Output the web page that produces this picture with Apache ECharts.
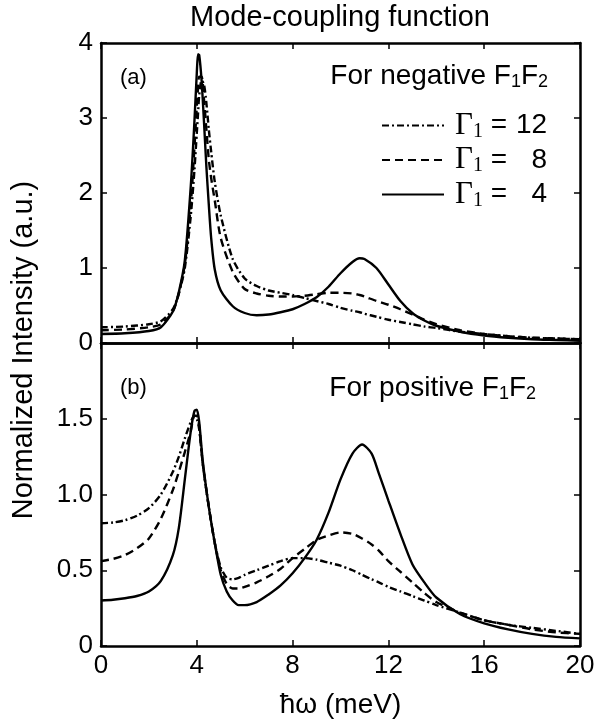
<!DOCTYPE html>
<html><head><meta charset="utf-8">
<script src="https://cdn.jsdelivr.net/npm/echarts@6/dist/echarts.min.js"></script>
<style>html,body{margin:0;padding:0;background:#fff}#c{width:609px;height:725px}</style>
</head><body><div id="c"></div>
<script>
// ---- Panel (a): negative F1F2 ----
const xTop = [0, 1, 2, 2.5, 3, 3.25, 3.5, 3.75, 3.9, 4.0, 4.05, 4.1, 4.2, 4.3, 4.4, 4.5, 4.6, 4.75, 5, 5.5, 6, 6.5, 7, 7.5, 8, 8.5, 9, 9.5, 10, 10.5, 10.8, 11, 11.5, 12, 12.5, 13, 13.5, 14, 15, 16, 17, 18, 19, 20];
const topG4  = [0.12, 0.13, 0.16, 0.21, 0.42, 0.68, 1.10, 2.10, 2.95, 3.60, 3.85, 3.84, 3.50, 2.95, 2.35, 1.85, 1.40, 0.98, 0.70, 0.49, 0.40, 0.37, 0.38, 0.41, 0.45, 0.52, 0.61, 0.75, 0.93, 1.08, 1.13, 1.12, 1.00, 0.78, 0.56, 0.40, 0.30, 0.23, 0.15, 0.10, 0.07, 0.05, 0.04, 0.03];
const topG8  = [0.17, 0.18, 0.21, 0.25, 0.42, 0.66, 1.05, 1.85, 2.60, 3.15, 3.40, 3.55, 3.55, 3.25, 2.85, 2.45, 2.20, 1.90, 1.40, 0.95, 0.72, 0.66, 0.63, 0.62, 0.62, 0.63, 0.65, 0.67, 0.67, 0.66, 0.64, 0.62, 0.56, 0.51, 0.45, 0.38, 0.31, 0.25, 0.17, 0.12, 0.09, 0.07, 0.06, 0.05];
const topG12 = [0.21, 0.22, 0.25, 0.29, 0.45, 0.66, 1.00, 1.70, 2.30, 2.80, 3.05, 3.30, 3.50, 3.45, 3.20, 2.85, 2.55, 2.15, 1.70, 1.12, 0.86, 0.76, 0.70, 0.67, 0.64, 0.60, 0.56, 0.52, 0.47, 0.43, 0.41, 0.39, 0.35, 0.31, 0.28, 0.25, 0.22, 0.20, 0.15, 0.12, 0.09, 0.07, 0.06, 0.05];

// ---- Panel (b): positive F1F2 ----
const xBot = [0, 0.5, 1, 1.5, 2, 2.5, 3, 3.25, 3.5, 3.75, 3.9, 4.0, 4.1, 4.25, 4.5, 4.75, 5, 5.25, 5.5, 5.75, 6, 6.5, 7, 7.5, 8, 8.5, 9, 9.5, 10, 10.5, 10.9, 11.3, 11.6, 12, 12.5, 13, 13.5, 14, 15, 16, 17, 18, 19, 20];
const botG4  = [0.30, 0.305, 0.315, 0.33, 0.36, 0.43, 0.60, 0.78, 1.10, 1.42, 1.55, 1.56, 1.48, 1.22, 0.92, 0.68, 0.47, 0.36, 0.30, 0.27, 0.27, 0.29, 0.34, 0.40, 0.48, 0.58, 0.70, 0.88, 1.10, 1.27, 1.33, 1.27, 1.14, 0.96, 0.74, 0.54, 0.42, 0.32, 0.21, 0.15, 0.11, 0.08, 0.06, 0.05];
const botG8  = [0.56, 0.575, 0.60, 0.645, 0.71, 0.84, 1.03, 1.15, 1.28, 1.42, 1.52, 1.52, 1.45, 1.20, 0.92, 0.68, 0.50, 0.41, 0.38, 0.38, 0.39, 0.42, 0.46, 0.51, 0.58, 0.64, 0.70, 0.73, 0.75, 0.74, 0.71, 0.67, 0.63, 0.56, 0.49, 0.42, 0.35, 0.29, 0.22, 0.17, 0.14, 0.11, 0.09, 0.08];
const botG12 = [0.81, 0.815, 0.83, 0.86, 0.91, 1.00, 1.15, 1.25, 1.37, 1.48, 1.52, 1.50, 1.43, 1.20, 0.92, 0.68, 0.52, 0.45, 0.44, 0.45, 0.47, 0.50, 0.53, 0.56, 0.58, 0.58, 0.57, 0.55, 0.53, 0.50, 0.47, 0.44, 0.42, 0.39, 0.36, 0.33, 0.30, 0.27, 0.22, 0.17, 0.14, 0.12, 0.10, 0.08];

const seriesNames = ['G12', 'G8', 'G4'];
const gammaValues = ['12', '8', '4'];

const FONT = "'Liberation Sans', Arial, Helvetica, sans-serif";
const SERIF = "'Liberation Serif', 'Times New Roman', serif";

function pairs(xs, ys) { return xs.map((x, i) => [x, ys[i]]); }

const styles = {
  G12: { color: '#000', width: 2.4, type: [7, 3, 2, 3] },
  G8:  { color: '#000', width: 2.4, type: [8, 5] },
  G4:  { color: '#000', width: 2.4, type: 'solid' }
};

function mkSeries(name, xi, yi, xs, ys) {
  return { name, type: 'line', xAxisIndex: xi, yAxisIndex: yi, data: pairs(xs, ys),
    symbol: 'none', smooth: 0.25, lineStyle: styles[name], silent: true };
}

function xAx(gridIndex, position, showLabel) {
  return { type: 'value', gridIndex, position, min: 0, max: 20, interval: 4,
    axisLine: { show: true, onZero: false, lineStyle: { color: '#000', width: 2.5 } },
    axisTick: { show: true, inside: true, length: 6, lineStyle: { color: '#000', width: 1.5 } },
    axisLabel: { show: showLabel, color: '#000', fontFamily: FONT, fontSize: 26, margin: 7 },
    splitLine: { show: false },
    name: showLabel ? 'ħω (meV)' : '', nameLocation: 'middle', nameGap: 45,
    nameTextStyle: { color: '#000', fontFamily: FONT, fontSize: 28 } };
}
function yAx(gridIndex, position, showLabel, max, interval, fmt) {
  return { type: 'value', gridIndex, position, min: 0, max, interval,
    axisLine: { show: true, onZero: false, lineStyle: { color: '#000', width: 2.5 } },
    axisTick: { show: true, inside: true, length: 6, lineStyle: { color: '#000', width: 1.5 } },
    axisLabel: { show: showLabel, color: '#000', fontFamily: FONT, fontSize: 26, margin: 8, formatter: fmt },
    splitLine: { show: false } };
}

const subRich = {
  a: { fontFamily: FONT, fontSize: 28, color: '#000' },
  s: { fontFamily: FONT, fontSize: 18, color: '#000', padding: [12, 0, 0, 0] }
};

const chart = echarts.init(document.getElementById('c'), null, { renderer: 'canvas' });
chart.setOption({
  animation: false,
  backgroundColor: '#fff',
  grid: [
    { left: 101, right: 29, top: 43, height: 300 },
    { left: 101, right: 29, top: 343, height: 303 }
  ],
  xAxis: [ xAx(0, 'bottom', false), xAx(0, 'top', false), xAx(1, 'bottom', true), xAx(1, 'top', false) ],
  yAxis: [
    yAx(0, 'left', true, 4, 1, v => String(v)),
    yAx(0, 'right', false, 4, 1),
    yAx(1, 'left', true, 2, 0.5, v => v === 0 ? '0' : (v >= 2 ? '' : v.toFixed(1))),
    yAx(1, 'right', false, 2, 0.5)
  ],
  legend: {
    data: seriesNames, orient: 'vertical', left: 376, top: 105,
    itemWidth: 62, itemHeight: 16, itemGap: 3, selectedMode: false,
    itemStyle: { opacity: 0 },
    formatter: n => '{g|Γ}{s|1}{t| =}{n|' + gammaValues[seriesNames.indexOf(n)] + '}',
    textStyle: { color: '#000', rich: {
      g: { fontFamily: SERIF, fontSize: 31, color: '#000', padding: [0, 0, 0, 6] },
      s: { fontFamily: SERIF, fontSize: 20, color: '#000', padding: [12, 0, 0, 0] },
      t: { fontFamily: FONT, fontSize: 28, color: '#000' },
      n: { fontFamily: FONT, fontSize: 28, color: '#000', width: 40, align: 'right' }
    } }
  },
  graphic: [
    { type: 'text', x: 340, y: 18, style: { text: 'Mode-coupling function', align: 'center', verticalAlign: 'middle', font: '29px ' + FONT, fill: '#000' } },
    { type: 'text', rotation: Math.PI / 2, x: 24, y: 350, style: { text: 'Normalized Intensity (a.u.)', align: 'center', verticalAlign: 'middle', font: '29px ' + FONT, fill: '#000' } },
    { type: 'text', x: 120, y: 78, style: { text: '(a)', align: 'left', verticalAlign: 'middle', font: '22px ' + FONT, fill: '#000' } },
    { type: 'text', x: 120, y: 388, style: { text: '(b)', align: 'left', verticalAlign: 'middle', font: '22px ' + FONT, fill: '#000' } },
    { type: 'text', x: 548, y: 76, style: { text: '{a|For negative F}{s|1}{a|F}{s|2}', rich: subRich, align: 'right', verticalAlign: 'middle', fill: '#000' } },
    { type: 'text', x: 536, y: 388, style: { text: '{a|For positive F}{s|1}{a|F}{s|2}', rich: subRich, align: 'right', verticalAlign: 'middle', fill: '#000' } }
  ],
  series: [
    mkSeries('G12', 0, 0, xTop, topG12),
    mkSeries('G8', 0, 0, xTop, topG8),
    mkSeries('G4', 0, 0, xTop, topG4),
    mkSeries('G12', 2, 2, xBot, botG12),
    mkSeries('G8', 2, 2, xBot, botG8),
    mkSeries('G4', 2, 2, xBot, botG4)
  ]
});
</script></body></html>
